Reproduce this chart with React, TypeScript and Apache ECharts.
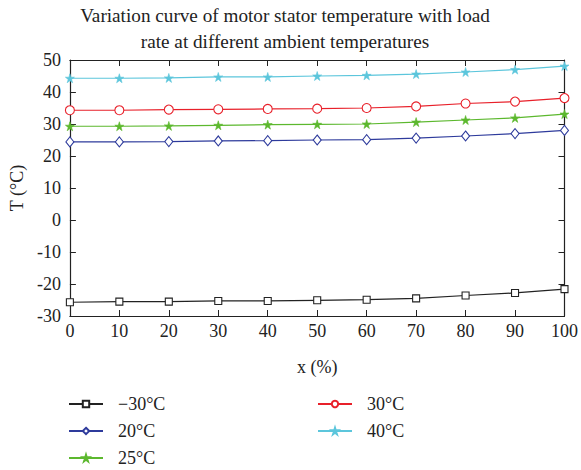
import React, { useEffect, useRef } from "react";
import * as echarts from "echarts";

const loadRate = [0, 10, 20, 30, 40, 50, 60, 70, 80, 90, 100];
const tMinus30 = [-25.7, -25.5, -25.5, -25.3, -25.3, -25.1, -24.9, -24.5, -23.6, -22.8, -21.6];
const t20 = [24.4, 24.4, 24.5, 24.7, 24.8, 25.0, 25.1, 25.6, 26.25, 27.0, 28.0];
const t25 = [29.3, 29.3, 29.4, 29.6, 29.8, 29.9, 30.0, 30.6, 31.25, 31.9, 33.1];
const t30 = [34.3, 34.3, 34.5, 34.6, 34.7, 34.8, 35.0, 35.5, 36.4, 37.0, 38.1];
const t40 = [44.3, 44.3, 44.4, 44.7, 44.7, 45.0, 45.2, 45.6, 46.25, 47.0, 48.1];

const seriesNames = ["\u221230\u00b0C", "20\u00b0C", "25\u00b0C", "30\u00b0C", "40\u00b0C"];
const titleText = "Variation curve of motor stator temperature with load\nrate at different ambient temperatures";

const FONT = "'Liberation Serif', 'DejaVu Serif', serif";
const STAR = "path://M50,0 L61,35 L98,35 L68,57 L79,91 L50,70 L21,91 L32,57 L2,35 L39,35 Z";

export default function App() {
  const ref = useRef<HTMLDivElement>(null);
  useEffect(() => {
    if (!ref.current) return;
    const chart = echarts.init(ref.current, null, { renderer: "svg" });
    const mk = (name: string, data: number[], color: string, symbol: string, size: number | number[], filled: boolean) => ({
      name,
      type: "line",
      data: loadRate.map((x, i) => [x, data[i]]),
      symbol,
      symbolSize: size,
      showSymbol: true,
      lineStyle: { color, width: 1.2, type: "solid" },
      itemStyle: filled
        ? { color, borderColor: color, borderWidth: 0.6 }
        : { color: "#ffffff", borderColor: color, borderWidth: 1.1 },
      emphasis: { disabled: true },
      xAxisIndex: 0,
      yAxisIndex: 0,
    });
    const tickStyle = { lineStyle: { color: "#222", width: 1 } };
    const axisLine = { show: true, onZero: false, lineStyle: { color: "#222", width: 1.2 } };
    const legendBase = {
      orient: "vertical",
      top: 395,
      itemWidth: 34,
      itemHeight: 8,
      itemGap: 9,
      padding: 0,
      textStyle: { fontFamily: FONT, fontSize: 18, color: "#222", padding: [0, 0, 0, 10] },
    };
    chart.setOption({
      animation: false,
      backgroundColor: "#ffffff",
      graphic: [
        {
          type: "text",
          x: 285,
          y: 2,
          style: {
            text: titleText,
            textAlign: "center",
            fontFamily: FONT,
            fontSize: 19.2,
            lineHeight: 26,
            fill: "#222",
          },
        },
      ],
      grid: { left: 67, right: 15, top: 60, bottom: 154, containLabel: false },
      xAxis: [
        {
          type: "value",
          min: 0,
          max: 100,
          interval: 10,
          name: "x (%)",
          nameLocation: "middle",
          nameGap: 42,
          nameTextStyle: { fontFamily: FONT, fontSize: 18, color: "#222" },
          axisLine,
          axisTick: { show: true, inside: true, length: 6, ...tickStyle },
          axisLabel: { fontFamily: FONT, fontSize: 18, color: "#222", margin: 6 },
          splitLine: { show: false },
        },
        {
          type: "value",
          position: "top",
          min: 0,
          max: 100,
          interval: 10,
          axisLine,
          axisTick: { show: true, inside: true, length: 6, ...tickStyle },
          axisLabel: { show: false },
          splitLine: { show: false },
        },
      ],
      yAxis: [
        {
          type: "value",
          min: -30,
          max: 50,
          interval: 10,
          name: "T (\u00b0C)",
          nameLocation: "middle",
          nameGap: 42,
          nameTextStyle: { fontFamily: FONT, fontSize: 18, color: "#222" },
          axisLine,
          axisTick: { show: true, inside: true, length: 6, ...tickStyle },
          axisLabel: { fontFamily: FONT, fontSize: 18, color: "#222", margin: 9, formatter: (v: number) => String(v) },
          splitLine: { show: false },
        },
        {
          type: "value",
          position: "right",
          min: -30,
          max: 50,
          interval: 10,
          axisLine,
          axisTick: { show: true, inside: true, length: 6, ...tickStyle },
          axisLabel: { show: false },
          splitLine: { show: false },
        },
      ],
      legend: [
        { ...legendBase, data: [seriesNames[0], seriesNames[1], seriesNames[2]], left: 68 },
        { ...legendBase, data: [seriesNames[3], seriesNames[4]], left: 317 },
      ],
      series: [
        mk(seriesNames[0], tMinus30, "#222222", "rect", 7, false),
        mk(seriesNames[1], t20, "#2e3b9c", "diamond", [8, 10], false),
        mk(seriesNames[2], t25, "#5cb82e", STAR, 9, true),
        mk(seriesNames[3], t30, "#e8202a", "circle", 9, false),
        mk(seriesNames[4], t40, "#5cc6dc", STAR, 9, true),
      ],
    });
    return () => chart.dispose();
  }, []);
  return <div ref={ref} style={{ position: "absolute", left: 0, top: 0, width: 581, height: 470 }} />;
}
